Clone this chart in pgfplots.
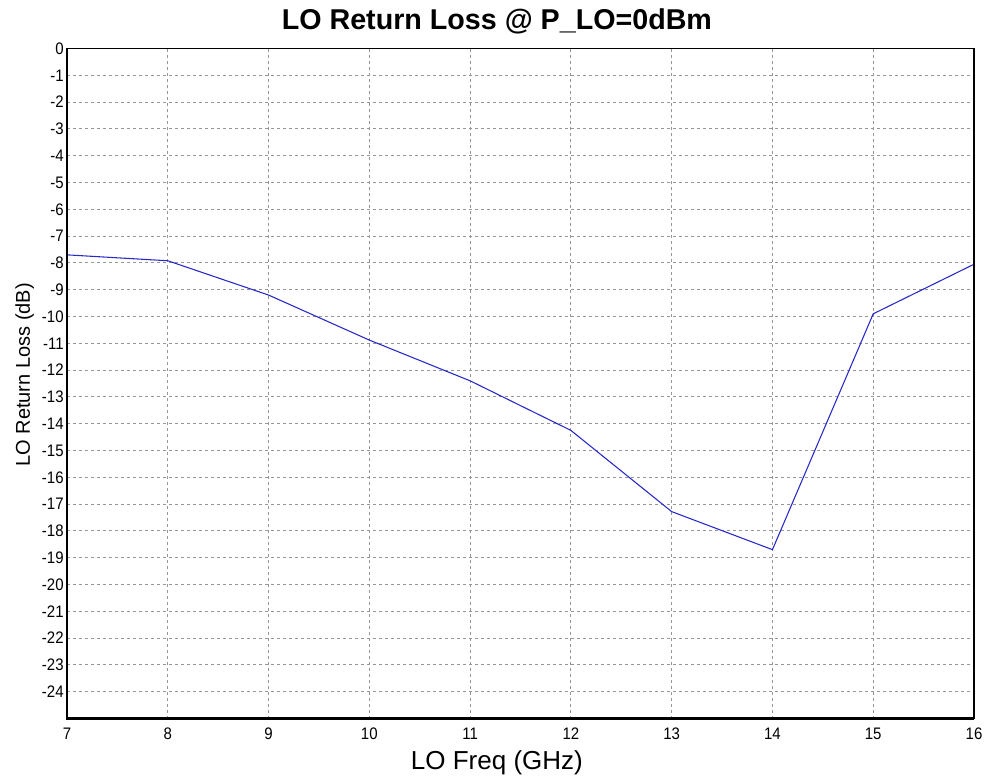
\documentclass[border=0pt]{standalone}
\usepackage{fontspec}
\setmainfont{Liberation Sans}
\newfontfamily\tickfont[FakeStretch=0.9]{Liberation Sans}
\usepackage{pgfplots}
\pgfplotsset{compat=1.18}
\definecolor{trace}{RGB}{40,40,200}
\definecolor{gridgray}{RGB}{150,150,150}
\begin{document}
\begin{tikzpicture}
\begin{axis}[
  scale only axis, width=680.25pt, height=502.5pt,
  xmin=7, xmax=16, ymin=-25, ymax=0,
  xtick={7,...,16}, ytick={-24,...,0},
  tick style={draw=none},
  /pgf/number format/assume math mode=true,
  tick label style={font={\fontsize{12.5}{15}\tickfont}},
  xticklabel style={anchor=base, yshift=-15.75pt},
  yticklabel style={xshift=1pt},
  axis line style={draw=none},
  grid=major,
  major grid style={gridgray, dash pattern=on 2.25pt off 2.25pt, line width=0.75pt},
  title={\bfseries LO Return Loss @ P\_LO=0dBm},
  title style={font=\fontsize{21.5}{26}\selectfont, at={(axis description cs:0.474,1)}, anchor=base, yshift=8.6pt},
  xlabel={LO Freq (GHz)},
  xlabel style={font=\fontsize{19.5}{23}\selectfont, at={(axis description cs:0.474,0)}, anchor=base, yshift=-38pt},
  ylabel={LO Return Loss (dB)},
  ylabel style={font=\fontsize{15}{18}\selectfont, at={(axis description cs:-0.041,0.513)}, anchor=base, rotate=0},
  clip=false,
]
\addplot[trace, line width=0.8pt] coordinates {
  (7,-7.7) (8,-7.92) (9,-9.2) (10,-10.88) (11,-12.4)
  (12,-14.25) (13,-17.28) (14,-18.7) (15,-9.9) (16,-8.05)
};
% frame: heavy left and bottom edges, lighter top and right
\draw[black, line width=1.1pt] (rel axis cs:0,1) -- (rel axis cs:1,1) -- (rel axis cs:1,0);
\draw[black, line width=2pt] (rel axis cs:0,1) -- (rel axis cs:0,0) -- (rel axis cs:1,0);
% page margin around the plot area (989x783 px at 0.75pt per px)
\path (rel axis cs:0,0) ++(-50.25pt,-48.375pt) rectangle ++(741.75pt,587.25pt);
\end{axis}
\end{tikzpicture}
\end{document}
